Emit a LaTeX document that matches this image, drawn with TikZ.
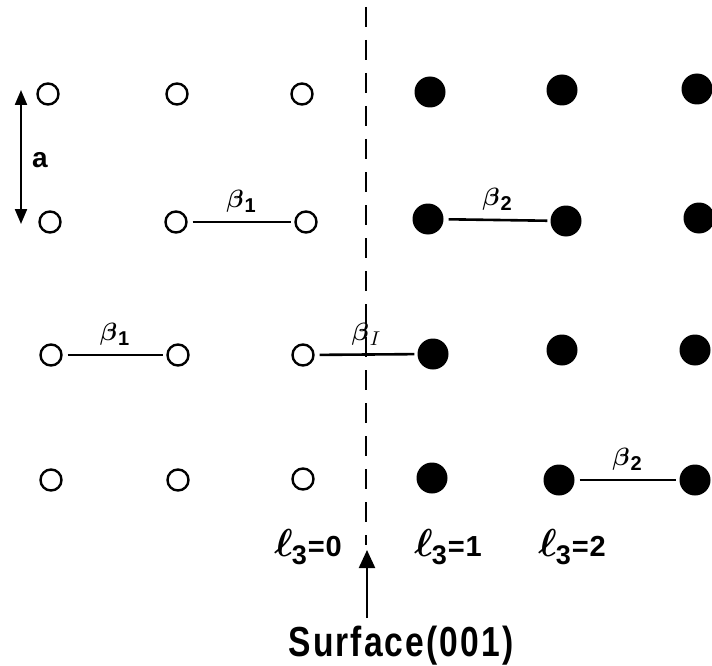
\documentclass[tikz,border=0pt]{standalone}
\usepackage{fontspec}
\newfontfamily\lab[FakeStretch=0.8,LetterSpace=5]{Liberation Sans}
\newfontfamily\digs[LetterSpace=3]{Liberation Sans}
\usetikzlibrary{arrows.meta}
\newcommand\betlab[1]{{\scalebox{2.5}{\boldmath$\beta$}\kern1pt\lower5pt\hbox{\fontsize{20}{20}\selectfont\digs\bfseries #1}}}
\newcommand\betI{{\scalebox{2.5}{\boldmath$\beta$}\kern1pt\lower5pt\hbox{\scalebox{2}{$I$}}}}
\newcommand\ellab[1]{{\scalebox{3.9}{\boldmath$\ell$}\kern-1pt\lower8pt\hbox{\fontsize{27}{27}\selectfont\digs\bfseries 3}\kern1pt{\fontsize{29}{29}\selectfont\digs\bfseries =#1}}}
\begin{document}
\begin{tikzpicture}[x=1pt,y=-1pt,
  openat/.style={circle,draw,line width=2.4pt,minimum size=21pt,inner sep=0pt},
  fullat/.style={circle,fill,minimum size=31pt,inner sep=0pt},
  bond/.style={line width=2.6pt,shorten <=5pt,shorten >=3pt},
  blab/.style={above=8pt,inner sep=0pt},
  txt/.style={inner sep=0pt}]
\useasboundingbox (0,0) rectangle (712,666);
% row 1
\node[openat] (a11) at (48,94) {};
\node[openat] (a12) at (177,94) {};
\node[openat] (a13) at (302,94) {};
\node[fullat] (b11) at (430,92) {};
\node[fullat] (b12) at (562,90) {};
\node[fullat] (b13) at (697,89) {};
% row 2
\node[openat] (a21) at (50,222) {};
\node[openat] (a22) at (176,222) {};
\node[openat] (a23) at (306,222) {};
\node[fullat] (b21) at (428,219) {};
\node[fullat] (b22) at (566,221) {};
\node[fullat] (b23) at (699,218) {};
% row 3
\node[openat] (a31) at (51,355) {};
\node[openat] (a32) at (178,355) {};
\node[openat] (a33) at (303,355) {};
\node[fullat] (b31) at (433,354) {};
\node[fullat] (b32) at (562,350) {};
\node[fullat] (b33) at (695,350) {};
% row 4
\node[openat] (a41) at (51,480) {};
\node[openat] (a42) at (178,480) {};
\node[openat] (a43) at (303,479) {};
\node[fullat] (b41) at (432,478) {};
\node[fullat] (b42) at (559,480) {};
\node[fullat] (b43) at (695,480) {};
% bonds
\draw[bond] (a22) -- (a23) node[midway,blab] {\betlab{1}};
\draw[bond] (b21) -- (b22) node[midway,blab] {\betlab{2}};
\draw[bond] (a31) -- (a32) node[midway,blab] {\betlab{1}};
\draw[bond] (a33) -- (b31) node[midway,blab] {\betI};
\draw[bond] (b42) -- (b43) node[midway,blab] {\betlab{2}};
% lattice constant
\coordinate (at) at (21,90);
\coordinate (ab) at (21,224);
\draw[line width=2.2pt,{Triangle[length=15pt,width=12pt]}-{Triangle[length=15pt,width=12pt]}] (at) -- (ab);
\node[txt] (alab) at (40,160) {\fontsize{28}{28}\selectfont\digs\bfseries a};
% surface plane
\coordinate (dtop) at (366,7);
\coordinate (dbot) at (366,545);
\draw[line width=2.6pt,dash pattern=on 20pt off 13pt] (dtop) -- (dbot);
\node[txt] (l0) at (308,547) {\ellab{0}};
\node[txt] (l1) at (448,547) {\ellab{1}};
\node[txt] (l2) at (572,547) {\ellab{2}};
\node[txt] (surf) at (401,646) {\fontsize{42}{42}\selectfont\lab\bfseries Surface(001)};
\coordinate (sb) at (367,618);
\coordinate (st) at (367,550);
\draw[line width=2.2pt,-{Triangle[length=18pt,width=16pt]}] (sb) -- (st);
\end{tikzpicture}
\end{document}
